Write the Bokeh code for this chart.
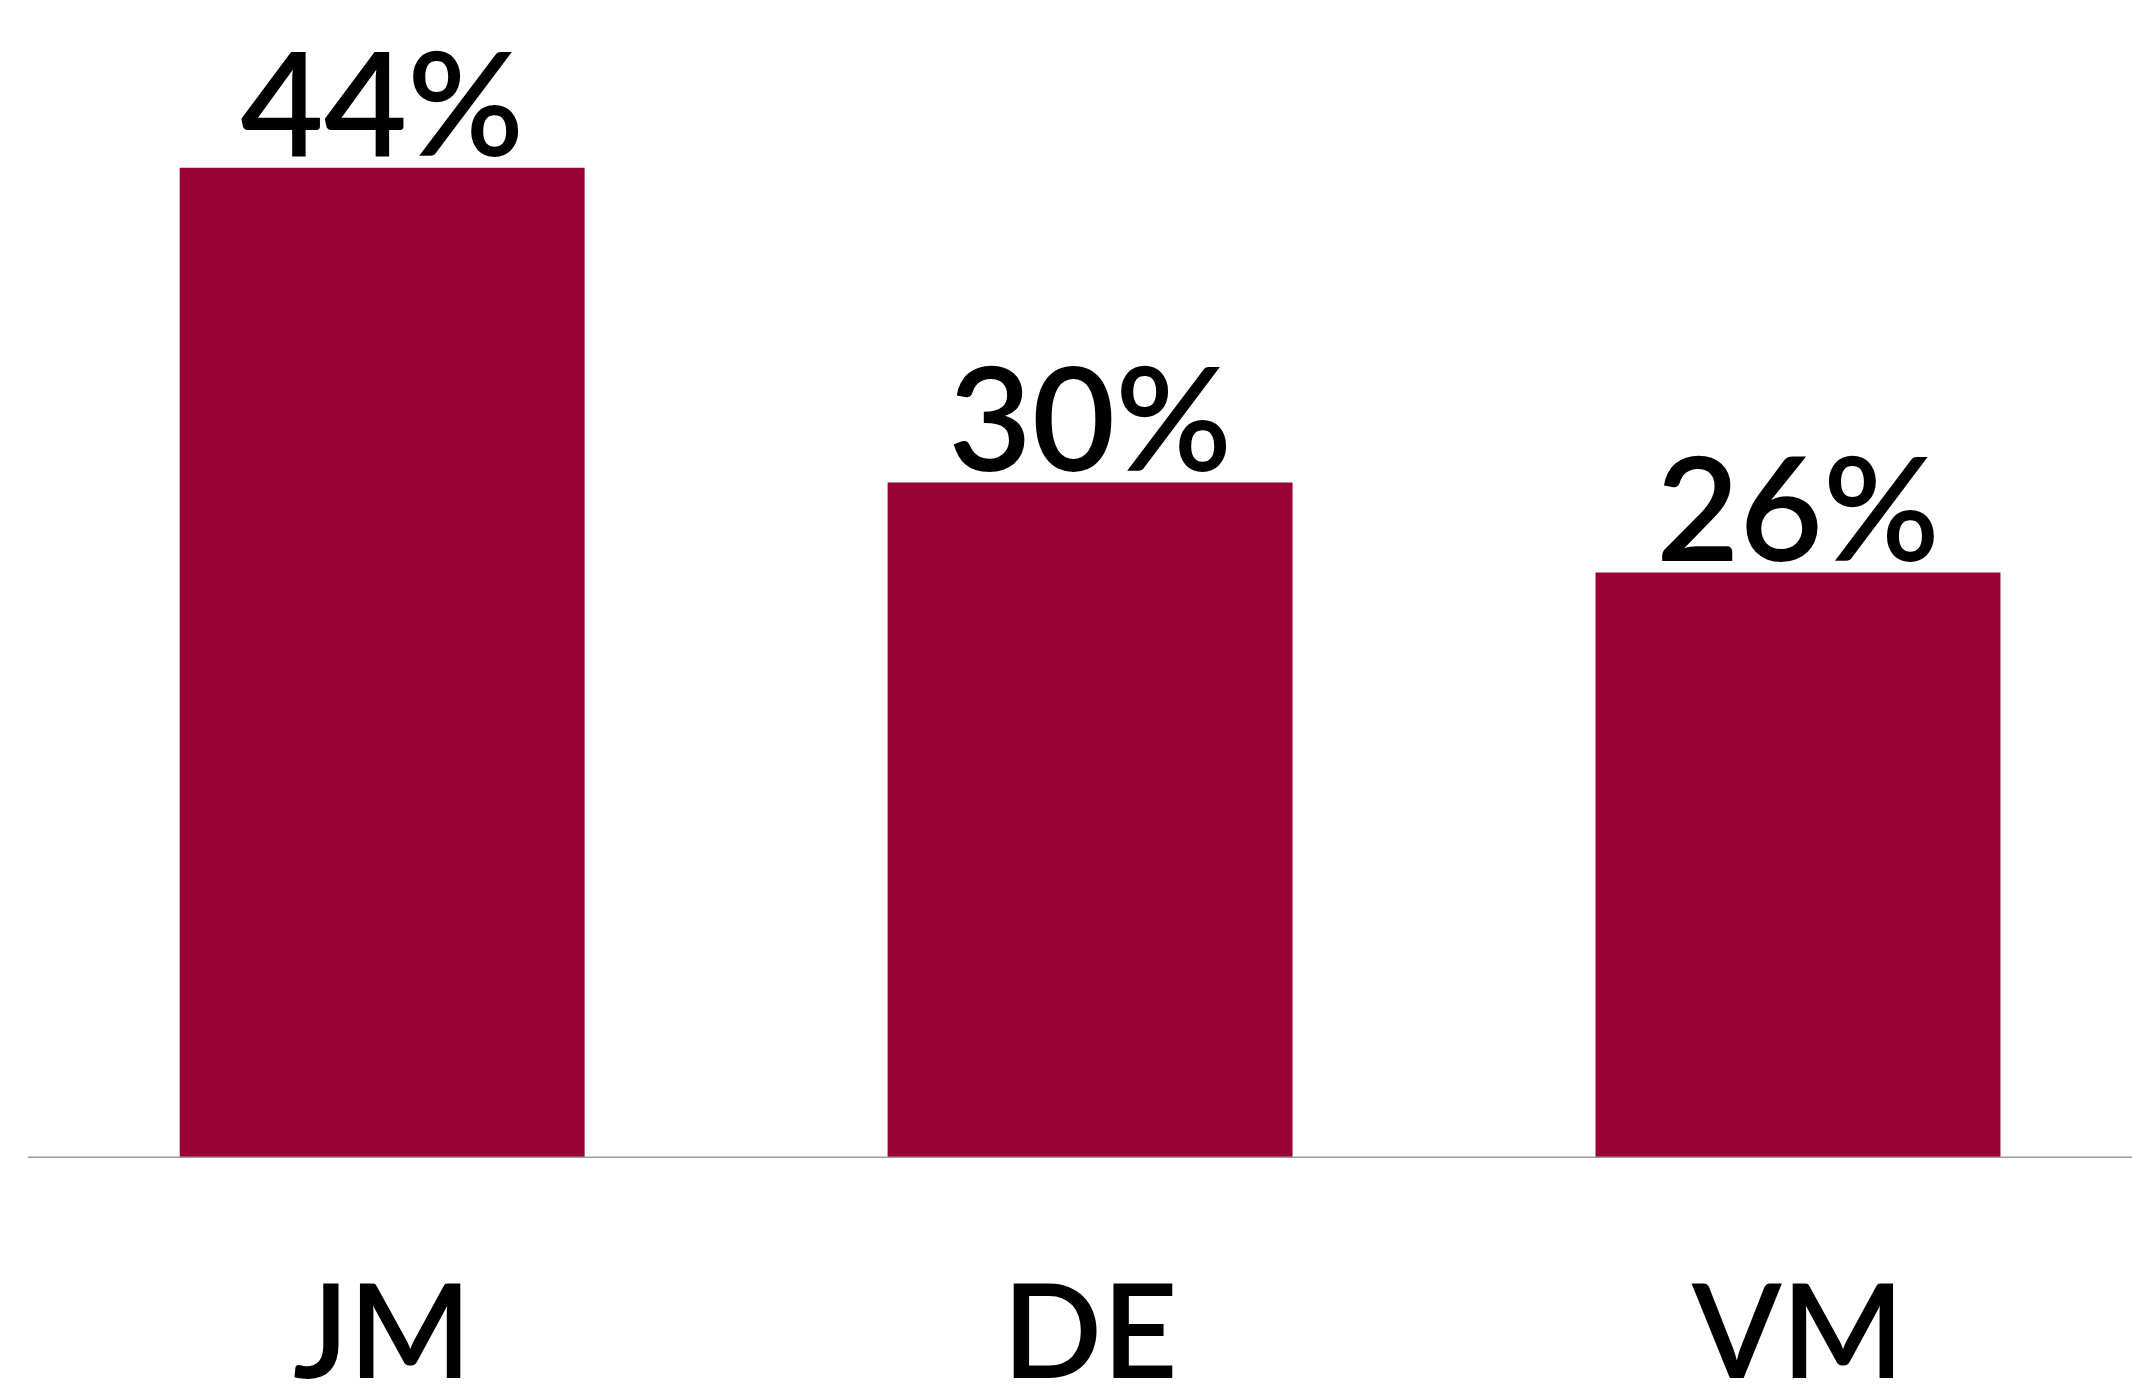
from bokeh.plotting import figure
from bokeh.models import Range1d, ColumnDataSource, Span
from bokeh.core.properties import value
from bokeh.embed import file_html
from bokeh.resources import INLINE

categories = ["JM", "DE", "VM"]
shares = [44, 30, 26]
share_labels = ["44%", "30%", "26%"]

BAR_COLOR = "#990033"
FONT = "Lato Semibold"

xpos = [i + 0.5 for i in range(len(categories))]
src = ColumnDataSource(dict(x=xpos, top=shares, label=share_labels,
                            cat=categories, zero=[0] * len(categories)))

PX_PER_CAT = 708.15
PX_PER_PCT = 22.486
W, H = 2132, 1388
LEFT = 27
ZERO_Y = 1156.7

p = figure(width=W, height=H, output_backend="svg", toolbar_location=None,
           x_range=Range1d(-0.001, (W - LEFT) / PX_PER_CAT),
           y_range=Range1d(-(H - ZERO_Y) / PX_PER_PCT, ZERO_Y / PX_PER_PCT),
           min_border_left=LEFT, min_border_right=0, min_border_top=0, min_border_bottom=0)

p.vbar(x="x", top="top", width=0.572, bottom=0, source=src,
       fill_color=BAR_COLOR, line_color=None)

p.add_layout(Span(location=0, dimension="width", line_color="#9a9a9a", line_width=1.5))

# value labels above bars
p.text(x="x", y="top", text="label", source=src, text_align="center",
       text_baseline="alphabetic", y_offset=-67, text_color="black",
       text_font=value(FONT), text_font_size="144px")

# category labels below baseline
p.text(x="x", y="zero", text="cat", source=src, text_align="center",
       text_baseline="alphabetic", y_offset=170, text_color="black",
       text_font=value(FONT), text_font_size="131px")

p.xgrid.visible = False
p.ygrid.visible = False
p.xaxis.visible = False
p.yaxis.visible = False
p.outline_line_color = None
p.background_fill_color = "white"
p.border_fill_color = "white"

open("out.html", "w").write(file_html(p, INLINE))
